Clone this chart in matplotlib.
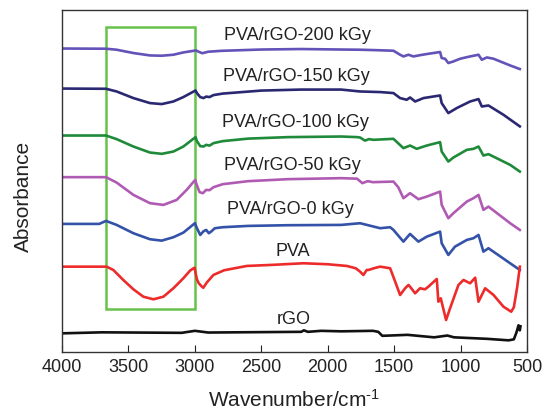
import matplotlib.pyplot as plt
from matplotlib.patches import Rectangle

plt.rcParams['font.family'] = ['Liberation Sans', 'DejaVu Sans']
plt.rcParams['mathtext.fontset'] = 'custom'
plt.rcParams['mathtext.rm'] = 'Liberation Sans'
plt.rcParams['mathtext.default'] = 'regular'
plt.rcParams['axes.unicode_minus'] = False

# FTIR spectra, offset vertically (arbitrary absorbance units)
wn_200 = [4000, 3669, 3589, 3463, 3338, 3250, 3162, 3087, 2992, 2975, 2945, 2900, 2800, 2500, 2200, 1900,
          1757, 1620, 1506, 1456, 1431, 1393, 1356, 1300, 1255, 1155, 1143, 1118, 1093, 1055,
          1004, 929, 891, 866, 841, 803, 753, 628, 555]
ab_200 = [303.5, 303.3, 302.3, 299, 296.6, 296.3, 297.3, 299.6, 301.6, 300.5, 298.8, 300.3, 301.2, 302.5, 303, 302.5,
          302.3, 301.8, 301.3, 297.3, 295.6, 297.3, 295.6, 297, 298, 300, 294, 293.3, 289, 290.6,
          293.3, 295.6, 296.6, 297.3, 292.3, 294.6, 293.3, 286.6, 283]

wn_150 = [4000, 3669, 3589, 3463, 3338, 3250, 3162, 3087, 2995, 2985, 2960, 2935, 2915, 2890, 2860, 2790, 2500,
          2200, 1900, 1757, 1606, 1506, 1456, 1406, 1381, 1343, 1280, 1155, 1143, 1093, 1030,
          929, 866, 841, 791, 678, 555]
ab_150 = [263.5, 263.3, 260.6, 254, 249, 248, 250.6, 255, 261.6, 259, 255, 254, 255.5, 255, 257, 258.5, 261.5,
          262.5, 262.5, 260.6, 260, 259, 254, 252.3, 254.6, 250.6, 254, 256.6, 249, 239, 244,
          250.6, 253, 245.6, 246.6, 237.3, 225.7]

wn_100 = [4000, 3669, 3589, 3463, 3338, 3250, 3162, 3087, 2995, 2985, 2960, 2935, 2915, 2890, 2860, 2790, 2600,
          2300, 1900, 1780, 1757, 1720, 1690, 1657, 1506, 1431, 1381, 1331, 1255, 1155, 1143,
          1093, 1055, 954, 904, 866, 829, 791, 628, 555]
ab_100 = [216.6, 216.6, 213, 205.6, 199.6, 198.3, 200.6, 205.6, 215, 211, 206, 205.6, 207.3, 206.5, 209, 211, 213.5,
          215, 215.6, 215, 214.6, 211.5, 213, 212.3, 213.3, 204, 206.6, 203.3, 206.6, 210, 200.6,
          190.6, 194.6, 202.3, 203.3, 205.6, 196.6, 198, 187.3, 180.6]

wn_50 = [4000, 3669, 3589, 3463, 3338, 3237, 3137, 3062, 2998, 2988, 2965, 2940, 2915, 2890, 2860, 2790, 2600,
         2300, 1900, 1780, 1740, 1700, 1660, 1506, 1470, 1431, 1381, 1318, 1255, 1155, 1143,
         1093, 1055, 954, 904, 866, 829, 791, 628, 555]
ab_50 = [175, 175, 169.6, 157.3, 149, 147.3, 152.3, 162.3, 172.3, 168, 160, 159, 162.3, 162, 165, 168, 171,
         173, 174, 173.5, 169, 171, 170, 170.6, 165, 154, 159, 153, 155.6, 160.6, 147.3,
         134, 139, 150.6, 154, 157.3, 142.3, 145.6, 129, 122.3]

wn_0 = [4000, 3720, 3669, 3589, 3463, 3338, 3250, 3162, 3087, 3000, 2988, 2960, 2935, 2915, 2895, 2875, 2850,
        2790, 2600, 2300, 1900, 1757, 1606, 1531, 1506, 1431, 1381, 1318, 1255, 1155, 1143,
        1093, 1043, 954, 904, 866, 829, 791, 628, 555]
ab_0 = [128.3, 128.3, 131.3, 127.3, 119, 113, 111.6, 115, 119.6, 129, 125, 117.3, 121, 122.3, 119, 121, 124,
        125, 126.3, 127, 127.3, 129, 124, 125, 122.3, 110.6, 118.3, 110.6, 115.6, 120.6, 109,
        97.3, 105.6, 112.3, 114, 117.3, 100.6, 104, 89, 82.3]

wn_pva = [4000, 3664, 3614, 3539, 3463, 3388, 3313, 3237, 3162, 3087, 3037, 3003, 2985, 2971, 2950, 2937,
          2912, 2861, 2780, 2610, 2400, 2183, 2000, 1857, 1790, 1757, 1732, 1707, 1694, 1640, 1606,
          1531, 1493, 1456, 1418, 1393, 1381, 1343, 1306, 1268, 1243, 1180, 1168, 1150, 1110,
          1080, 1017, 979, 929, 891, 866, 816, 753, 678, 620, 600, 575, 555]
ab_pva = [85.6, 85.6, 82.3, 72.3, 63, 55.6, 53, 55.6, 64, 74, 81.6, 84.6, 73, 69, 66, 64.5,
          69.5, 77.3, 82, 86.3, 87.5, 89, 88, 86.3, 84, 80.6, 77.3, 82.3, 82.3, 84.5, 85.6,
          84, 70.6, 57.3, 64, 67.3, 65.6, 59, 64, 63, 65.6, 73.3, 50.6, 54, 32.3,
          44, 67.3, 72.3, 69, 74.6, 50.6, 64, 57.3, 45.6, 40.6, 45, 65, 85.6]

wn_rgo = [4000, 3700, 3100, 3000, 2900, 2200, 2180, 2150, 2050, 1900, 1660, 1620, 1590, 1400,
          1200, 1100, 1050, 800, 640, 600, 580, 565, 555, 550]
ab_rgo = [19, 20, 19.5, 21.5, 19.8, 20.5, 22, 20.5, 21.5, 21, 21.5, 20.5, 16.5, 17.5,
          15, 16.8, 15, 13.5, 12, 13, 20, 27, 22, 26]

series = [
    (wn_200, ab_200, '#6452b8', 'PVA/rGO-200 kGy', 2226, 317),
    (wn_150, ab_150, '#2b2872', 'PVA/rGO-150 kGy', 2240, 276),
    (wn_100, ab_100, '#1f8a3a', 'PVA/rGO-100 kGy', 2240, 229.6),
    (wn_50, ab_50, '#b05bb3', 'PVA/rGO-50 kGy', 2266, 187),
    (wn_0, ab_0, '#3352a8', 'PVA/rGO-0 kGy', 2279, 143),
    (wn_pva, ab_pva, '#ee2b2b', 'PVA', 2266, 100.6),
    (wn_rgo, ab_rgo, '#111111', 'rGO', 2253, 33),
]

fig = plt.figure(figsize=(5.44, 4.16), dpi=100)
ax = fig.add_axes([0.114, 0.153, 0.855, 0.823])

for wn, ab, color, label, tx, ty in series:
    ax.plot(wn, ab, color=color, linewidth=1.9, solid_joinstyle='round')
    ax.text(tx, ty, label, ha='center', va='center', fontsize=13, color='#222222')

# highlighted O-H stretching band
ax.add_patch(Rectangle((3000, 43), 670, 281.6, fill=False, edgecolor='#66c24a', linewidth=1.8))

ax.set_xlim(4000, 500)
ax.set_ylim(0, 342)
ax.set_xticks([4000, 3500, 3000, 2500, 2000, 1500, 1000, 500])
ax.set_yticks([])
ax.tick_params(axis='x', direction='in', length=5, width=0.8, labelsize=13, pad=5, top=False, colors='#222222')
for s in ax.spines.values():
    s.set_linewidth(1.0)
    s.set_color('#333333')

ax.set_xlabel(r'Wavenumber/cm$^{\text{-}1}$', fontsize=15, color='#222222', labelpad=9)
ax.set_ylabel('Absorbance', fontsize=15, color='#222222')
ax.yaxis.set_label_coords(-0.062, 0.456)

fig.savefig('out.png', dpi=100)
